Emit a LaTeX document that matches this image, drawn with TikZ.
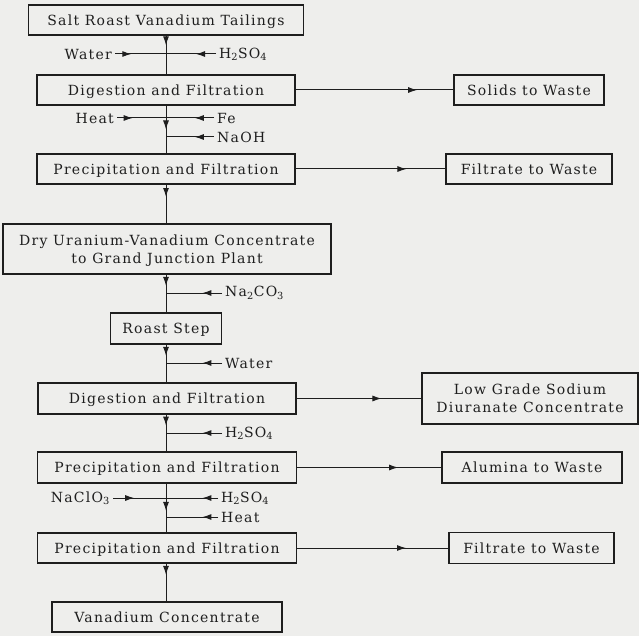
\documentclass[tikz,border=0pt]{standalone}
\usepackage{fontspec}
\setmainfont{DejaVu Serif}[LetterSpace=9]
\usetikzlibrary{arrows.meta,decorations.markings}
\definecolor{paper}{RGB}{238,238,236}
\definecolor{ink}{RGB}{30,30,30}
\tikzset{
  box/.style={draw=ink, line width=1.2pt, inner sep=0pt, align=center,
    text depth=0pt, font=\fontsize{14}{18}\selectfont, text=ink},
  lbl/.style={inner sep=3pt, font=\fontsize{14}{16}\selectfont, text=ink},
  flow/.style={draw=ink, line width=1pt, postaction={decorate},
    decoration={markings, mark=at position #1 with {\arrow{Latex[length=9pt,width=6pt]}}}},
}
\begin{document}
\begin{tikzpicture}[x=1pt,y=-1pt]
\fill[paper] (0,0) rectangle (639,636);
\useasboundingbox (0,0) rectangle (639,636);

% main column
\node[box, minimum width=275, minimum height=30] (b1) at (166,20) {Salt Roast Vanadium Tailings};
\node[box, minimum width=258, minimum height=30] (b2) at (166,90) {Digestion and Filtration};
\node[box, minimum width=258, minimum height=30] (b3) at (166,169) {Precipitation and Filtration};
\node[box, minimum width=328, minimum height=50] (b4) at (167,249) {Dry Uranium-Vanadium Concentrate\\to Grand Junction Plant};
\node[box, minimum width=111, minimum height=31] (b5) at (166,328.5) {Roast Step};
\node[box, minimum width=258, minimum height=31] (b6) at (167,398.5) {Digestion and Filtration};
\node[box, minimum width=259, minimum height=31] (b7) at (167,467.5) {Precipitation and Filtration};
\node[box, minimum width=259, minimum height=30] (b8) at (167,548) {Precipitation and Filtration};
\node[box, minimum width=230, minimum height=30] (b9) at (167,617) {Vanadium Concentrate};

% right column
\node[box, minimum width=150, minimum height=30] (s1) at (529,90) {Solids to Waste};
\node[box, minimum width=166, minimum height=30] (f1) at (529,169) {Filtrate to Waste};
\node[box, minimum width=216, minimum height=51] (lg) at (530,398.5) {Low Grade Sodium\\Diuranate Concentrate};
\node[box, minimum width=180, minimum height=31] (al) at (532,467.5) {Alumina to Waste};
\node[box, minimum width=165, minimum height=31] (f2) at (531.5,548) {Filtrate to Waste};

% vertical flow
\draw[flow=0.25] (b1.south -| 166,0) -- (b2.north -| 166,0);
\draw[flow=0.5] (b2.south -| 166,0) -- (b3.north -| 166,0);
\draw[flow=0.32] (b3.south -| 166,0) -- (b4.north -| 166,0);
\draw[flow=0.3] (b4.south -| 166,0) -- (b5.north -| 166,0);
\draw[flow=0.3] (b5.south -| 166,0) -- (b6.north -| 166,0);
\draw[flow=0.3] (b6.south -| 166,0) -- (b7.north -| 166,0);
\draw[flow=0.56] (b7.south -| 166,0) -- (b8.north -| 166,0);
\draw[flow=0.3] (b8.south -| 166,0) -- (b9.north -| 166,0);

% outputs to the right
\draw[flow=0.77] (b2.east) -- (s1.west);
\draw[flow=0.74] (b3.east) -- (f1.west);
\draw[flow=0.68] (b6.east) -- (b6.east -| lg.west);
\draw[flow=0.70] (b7.east) -- (b7.east -| al.west);
\draw[flow=0.72] (b8.east) -- (b8.east -| f2.west);

% side inputs
\node[lbl, anchor=east] (w1) at (115,54) {Water};
\node[lbl, anchor=west] (a1) at (216,54) {H\textsubscript{2}SO\textsubscript{4}};
\draw[flow=0.32] (w1.east) -- (w1.east -| 166,0);
\draw[flow=0.4] (a1.west) -- (a1.west -| 166,0);

\node[lbl, anchor=east] (h1) at (117,118) {Heat};
\node[lbl, anchor=west] (fe) at (214,118) {Fe};
\node[lbl, anchor=west] (na) at (214,137) {NaOH};
\draw[flow=0.32] (h1.east) -- (h1.east -| 166,0);
\draw[flow=0.4] (fe.west) -- (fe.west -| 166,0);
\draw[flow=0.4] (na.west) -- (na.west -| 166,0);

\node[lbl, anchor=west] (nc) at (222,293) {Na\textsubscript{2}CO\textsubscript{3}};
\draw[flow=0.35] (nc.west) -- (nc.west -| 166,0);

\node[lbl, anchor=west] (w2) at (222,363) {Water};
\draw[flow=0.35] (w2.west) -- (w2.west -| 166,0);

\node[lbl, anchor=west] (a2) at (222,433) {H\textsubscript{2}SO\textsubscript{4}};
\draw[flow=0.35] (a2.west) -- (a2.west -| 166,0);

\node[lbl, anchor=east] (cl) at (113,498) {NaClO\textsubscript{3}};
\node[lbl, anchor=west] (a3) at (218,498) {H\textsubscript{2}SO\textsubscript{4}};
\node[lbl, anchor=west] (h2) at (218,517) {Heat};
\draw[flow=0.4] (cl.east) -- (cl.east -| 166,0);
\draw[flow=0.3] (a3.west) -- (a3.west -| 166,0);
\draw[flow=0.3] (h2.west) -- (h2.west -| 166,0);
\end{tikzpicture}
\end{document}
